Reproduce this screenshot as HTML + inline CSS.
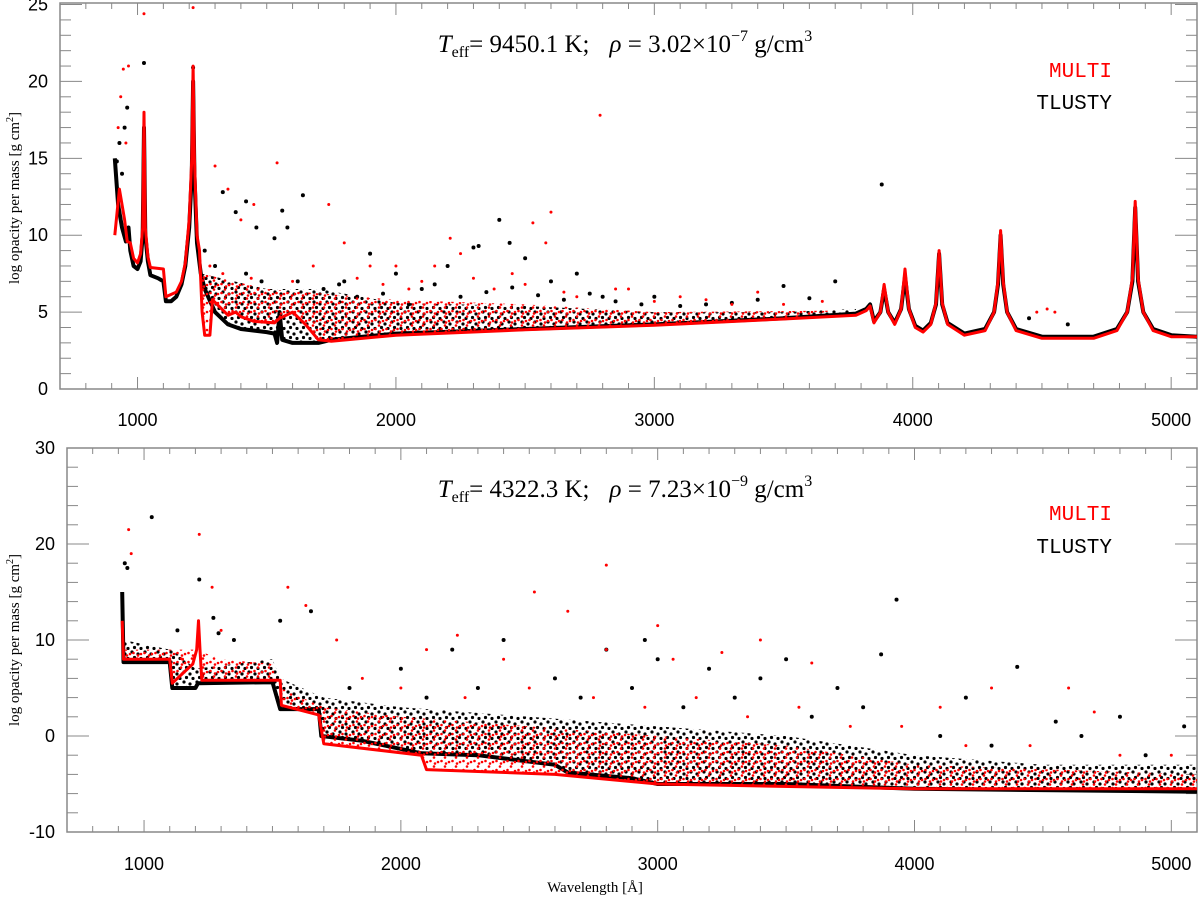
<!DOCTYPE html>
<html><head><meta charset="utf-8"><style>
body{margin:0;background:#fff}
svg text{font-family:"Liberation Sans",sans-serif}
</style></head><body>
<svg id="chart" width="1200" height="903" xmlns="http://www.w3.org/2000/svg">
<defs>
<pattern id="dotsK" width="13" height="10" patternUnits="userSpaceOnUse"><circle cx="2" cy="2" r="1.6" fill="#000"/><circle cx="8" cy="4" r="1.6" fill="#000"/><circle cx="4.5" cy="7.5" r="1.6" fill="#000"/><circle cx="11" cy="8.5" r="1.6" fill="#000"/></pattern>
<pattern id="dotsR" width="11" height="9" patternUnits="userSpaceOnUse"><circle cx="5" cy="1.5" r="1.3" fill="#f00"/><circle cx="1.5" cy="5" r="1.3" fill="#f00"/><circle cx="9" cy="6" r="1.3" fill="#f00"/><circle cx="6" cy="7.5" r="1.3" fill="#f00"/></pattern>
</defs>
<g id="top"></g>
<g id="bot"></g>
<text x="625" y="52" text-anchor="middle" style="font-family:'Liberation Serif',serif;font-size:25px"><tspan font-style="italic">T</tspan><tspan font-size="16" dy="5">eff</tspan><tspan dy="-5">= 9450.1 K;</tspan><tspan dx="20" font-style="italic">ρ</tspan><tspan> = 3.02×10</tspan><tspan font-size="16" dy="-11">−7</tspan><tspan dy="11"> g/cm</tspan><tspan font-size="16" dy="-11">3</tspan></text>
<text x="625" y="497" text-anchor="middle" style="font-family:'Liberation Serif',serif;font-size:25px"><tspan font-style="italic">T</tspan><tspan font-size="16" dy="5">eff</tspan><tspan dy="-5">= 4322.3 K;</tspan><tspan dx="20" font-style="italic">ρ</tspan><tspan> = 7.23×10</tspan><tspan font-size="16" dy="-11">−9</tspan><tspan dy="11"> g/cm</tspan><tspan font-size="16" dy="-11">3</tspan></text>
<text x="1112" y="77" text-anchor="end" fill="#f00" style="font-family:'Liberation Mono',monospace;font-size:21px">MULTI</text>
<text x="1112" y="109" text-anchor="end" fill="#000" style="font-family:'Liberation Mono',monospace;font-size:21px">TLUSTY</text>
<text x="1112" y="520" text-anchor="end" fill="#f00" style="font-family:'Liberation Mono',monospace;font-size:21px">MULTI</text>
<text x="1112" y="553" text-anchor="end" fill="#000" style="font-family:'Liberation Mono',monospace;font-size:21px">TLUSTY</text>
<text x="595" y="892" text-anchor="middle" style="font-family:'Liberation Serif',serif;font-size:15px">Wavelength [Å]</text>
<text transform="translate(19,198) rotate(-90)" text-anchor="middle" style="font-family:'Liberation Serif',serif;font-size:15px">log opacity per mass [g cm<tspan font-size="10" dy="-6">2</tspan><tspan dy="6">]</tspan></text>
<text transform="translate(19,640) rotate(-90)" text-anchor="middle" style="font-family:'Liberation Serif',serif;font-size:15px">log opacity per mass [g cm<tspan font-size="10" dy="-6">2</tspan><tspan dy="6">]</tspan></text>
</svg>
<script>
// ---- data: top panel ----
const topBaseK=[[912,15],[925,12],[940,10.5],[955,9.6],[965,10.5],[972,9],[985,8],[1000,7.8],[1012,8.3],[1020,10],[1025,17],[1030,10],[1040,8.3],[1050,7.4],[1080,7.2],[1100,7],[1110,5.7],[1130,5.7],[1150,6],[1170,6.8],[1185,8],[1200,10.5],[1210,14],[1215,20],[1220,14],[1230,9.5],[1245,7.5],[1260,6.5],[1300,5],[1350,4.2],[1400,3.9],[1500,3.7],[1530,3.6],[1540,3],[1550,5],[1560,3.2],[1600,3],[1700,3],[1750,3.2],[2000,3.6],[2500,3.9],[3000,4.2],[3500,4.6],[3780,4.9],[3820,5.2],[3835,5.5],[3850,4.4],[3875,5],[3889,6.5],[3905,5],[3930,4.3],[3955,5.2],[3970,7.3],[3985,5.2],[4010,4.1],[4040,3.8],[4070,4.3],[4090,5.5],[4102,8.8],[4114,5.5],[4135,4.3],[4200,3.6],[4280,3.9],[4315,5],[4330,6.8],[4340,10],[4350,6.8],[4365,5],[4400,3.9],[4500,3.4],[4700,3.4],[4790,3.9],[4830,5],[4850,7],[4861,11.8],[4872,7],[4892,5],[4930,3.9],[5000,3.5],[5100,3.4]];
const topBaseR=[[912,10],[930,13],[950,11],[960,9.6],[972,9.5],[985,8.5],[1000,8.2],[1012,8.8],[1020,10.5],[1025,18],[1030,10.5],[1040,8.6],[1050,7.9],[1100,7.8],[1110,6],[1150,6.3],[1170,7],[1185,8.2],[1200,11],[1210,15],[1215,21],[1220,15],[1230,10],[1240,9],[1250,5],[1260,3.5],[1280,3.5],[1290,5.8],[1350,4.8],[1380,5],[1400,4.7],[1450,4.4],[1530,4.3],[1550,4.6],[1600,5],[1650,4.2],[1700,3.2],[1750,3.1],[2000,3.5],[2500,3.85],[3000,4.15],[3500,4.55],[3780,4.8],[3820,5.1],[3835,5.4],[3850,4.3],[3875,5],[3889,6.8],[3905,5],[3930,4.2],[3955,5.2],[3970,7.8],[3985,5.2],[4010,4],[4040,3.7],[4070,4.2],[4090,5.6],[4102,9],[4114,5.6],[4135,4.2],[4200,3.5],[4280,3.8],[4315,5],[4330,7],[4340,10.3],[4350,7],[4365,5],[4400,3.8],[4500,3.3],[4700,3.3],[4790,3.8],[4830,5],[4850,7.2],[4861,12.2],[4872,7.2],[4892,5],[4930,3.8],[5000,3.4],[5100,3.4]];
const topEnvK=[[1250,7.5],[1500,6.5],[1700,6.5],[2000,5.6],[2500,5.4],[3000,5],[3500,5],[3780,5.2]];
const topEnvR=[[1250,7.5],[1500,6.5],[2000,5.8],[2500,5.5],[3000,5],[3700,5.1]];
const topOutK=[[1640,12.6],[2400,11],[2440,9.5],[2300,9.2],[2320,9.3],[1800,7],[2000,7.5],[2200,8],[2500,8.5],[2600,7],[2800,6],[3880,13.3],[3000,6],[3200,5.5],[3500,6.7],[3700,7],[1850,6],[2100,6.5],[2700,7.5],[1025,21.2],[1215,20.9],[1330,12.8],[1380,11.5],[1420,12.2],[1460,10.5],[1560,11.6],[1580,10.5],[1530,9.8],[960,18.3],[1900,8.8],[930,16],[940,14],[950,17],[920,14.8],[1260,9],[1300,8],[1420,7.5],[1480,7],[1620,7],[1720,6.5],[1780,6.8],[1950,6.2],[2050,5.5],[2150,6.8],[2250,6],[2350,6.3],[2450,6.6],[2550,6.1],[2650,5.8],[2750,6.2],[2850,5.7],[2950,5.5],[3100,5.4],[3300,5.6],[3400,5.8],[3600,5.9],[4450,4.6],[4600,4.2]];
const topOutR=[[1540,14.7],[2790,17.8],[1740,12],[2210,9.8],[2530,10.8],[2580,9.5],[2600,11.5],[2000,8],[1900,8],[2150,8],[2450,7.5],[1300,14.5],[1350,13],[1400,11],[1450,12],[2900,6.5],[3100,6],[3300,5.5],[4520,5.2],[1025,24.4],[1215,24.8],[945,20.8],[965,21],[1800,9.5],[2250,8.8],[3400,6.3],[925,17],[935,19],[955,16],[1280,8],[1330,7.5],[1440,7.2],[1600,7],[1680,8],[1850,7.2],[1950,6.8],[2050,6.5],[2100,7],[2300,7.2],[2380,6.5],[2500,6.8],[2650,6.3],[2700,6],[2850,6.5],[3000,5.7],[3200,5.8],[3500,5.5],[3650,5.7],[4480,5],[4550,5]];
// ---- data: bottom panel ----
const botBaseK=[[915,15],[920,7.7],[1100,7.7],[1110,5],[1200,5],[1210,5.5],[1500,5.6],[1530,2.8],[1680,2.8],[1690,0],[1850,-0.5],[2080,-1.8],[2300,-2],[2600,-3],[2650,-3.8],[2900,-4.4],[3000,-5],[3500,-5],[4000,-5.5],[5100,-5.8]];
const botBaseR=[[915,12],[920,8],[1100,8],[1110,5.5],[1190,7.5],[1205,9],[1212,12],[1218,9],[1225,5.8],[1530,5.8],[1535,3.2],[1680,2.2],[1700,-0.8],[2080,-2],[2100,-3.5],[2600,-4],[3000,-5],[4000,-5.5],[5100,-5.5]];
const botEnvK=[[920,10],[1100,9],[1110,9],[1200,7],[1500,8],[1530,6],[1700,4],[2000,3],[2500,2],[3000,1],[3500,0],[4000,-2],[4500,-3],[5100,-3]];
const botEnvR=[[920,9],[1200,9],[1300,8],[1500,7.5],[1530,5],[1700,3],[2000,2],[2500,1],[3000,0],[3500,-1],[4000,-3],[5100,-4]];
const botOutK=[[1030,22.8],[1215,16.3],[1270,12.3],[1530,12],[1650,13],[3930,14.2],[4400,7.2],[3000,8],[3500,8],[2800,9],[2200,9],[2400,10],[3870,8.5],[4800,2],[5050,1],[2600,6],[3200,7],[3700,5],[4200,4],[2000,7],[925,18],[935,17.5],[1290,10.7],[1350,10],[1130,11],[2950,10],[3400,6],[4550,1.5],[1800,5],[2100,4],[2300,5],[2700,4],[2900,5],[3100,3],[3300,4],[3600,2],[3800,3],[4100,0],[4300,-1],[4650,0],[4900,-2],[5150,-1]];
const botOutR=[[940,21.5],[950,19],[1215,21],[1265,15.5],[1560,15.5],[1630,13.6],[2520,15],[2800,17.8],[2650,13],[2220,10.5],[3000,11.5],[3400,10],[3060,8],[3600,7.6],[4300,5],[4600,5],[3250,8.7],[2400,8],[2800,9],[4100,3],[1300,11],[1150,8],[1750,10],[2100,9],[4700,2.5],[5150,-1],[1850,6],[2000,5],[2250,4],[2500,5],[2750,4],[2950,3],[3150,4],[3350,2],[3550,3],[3750,1],[3950,1],[4200,-1],[4450,-1],[4800,-2],[5000,-2]];
const xTicks=[1000,2000,3000,4000,5000];
const topYTicks=[0,5,10,15,20,25];
const botYTicks=[-10,0,10,20,30];

const NS='http://www.w3.org/2000/svg';
function mk(parent,tag,attrs){const e=document.createElementNS(NS,tag);for(const k in attrs)e.setAttribute(k,attrs[k]);parent.appendChild(e);return e;}
function panel(g,x0,x1,y0,y1,ymin,ymax,yTicks,yMinor,yLabelX,xLabelY,series){
  const xs=v=>x0+(v-700)/4400*(x1-x0);
  const ys=v=>y1-(v-ymin)/(ymax-ymin)*(y1-y0);
  const fr=mk(g,'rect',{x:x0,y:y0,width:x1-x0,height:y1-y0,fill:'none',stroke:'#888','stroke-width':1.5});
  
  
  for(let v=700;v<=5100;v+=100){const maj=v%1000===0;const L=maj?12:6;
    mk(g,'line',{x1:xs(v),x2:xs(v),y1:y1,y2:y1-L,stroke:'#888'});
    mk(g,'line',{x1:xs(v),x2:xs(v),y1:y0,y2:y0+L,stroke:'#888'});}
  xTicks.forEach(v=>{const t=mk(g,'text',{x:xs(v),y:xLabelY,'text-anchor':'middle','font-size':18});t.textContent=v;
    
    });
  for(let v=Math.ceil(ymin/yMinor)*yMinor;v<=ymax;v+=yMinor){const maj=yTicks.includes(v);const L=maj?22:11;
    mk(g,'line',{x1:x0,x2:x0+L,y1:ys(v),y2:ys(v),stroke:'#888'});
    mk(g,'line',{x1:x1,x2:x1-L,y1:ys(v),y2:ys(v),stroke:'#888'});}
  yTicks.forEach(v=>{const t=mk(g,'text',{x:yLabelX,y:ys(v)+6,'text-anchor':'end','font-size':18});t.textContent=v;
    
    });
  const clip='clip'+y0;
  mk(mk(g,'clipPath',{id:clip}),'rect',{x:x0,y:y0,width:x1-x0,height:y1-y0});
  const pg=mk(g,'g',{'clip-path':'url(#'+clip+')'});
  const path=a=>a.map((p,i)=>(i?'L':'M')+xs(p[0]).toFixed(1)+','+ys(p[1]).toFixed(1)).join('');
  series.forEach(s=>{
    const sg=mk(pg,'g',{});
    
    
    const env=s.env, base=s.base.filter(p=>p[0]>=env[0][0]&&p[0]<=env[env.length-1][0]);
    const d=path(env)+base.slice().reverse().map(p=>'L'+xs(p[0]).toFixed(1)+','+ys(p[1]).toFixed(1)).join('')+'Z';
    mk(sg,'path',{d:d,fill:s.pat});
    mk(sg,'path',{d:path(s.base),fill:'none',stroke:s.col,'stroke-width':s.w,'stroke-linejoin':'round'});
    s.out.forEach(p=>{const c=mk(sg,'circle',{cx:xs(p[0]),cy:ys(p[1]),r:s.r,fill:s.col});
      
      });
  });
}
panel(document.getElementById('top'),60,1197,3,389,0,25.1,topYTicks,1,48,426,[
  {name:'tlusty-series-top',base:topBaseK,env:topEnvK,out:topOutK,col:'#000',pat:'url(#dotsK)',w:4,r:2},
  {name:'multi-series-top',base:topBaseR,env:topEnvR,out:topOutR,col:'#f00',pat:'url(#dotsR)',w:3,r:1.5}]);
panel(document.getElementById('bot'),67,1197,448,832,-10,30,botYTicks,2,55,870,[
  {name:'tlusty-series-bottom',base:botBaseK,env:botEnvK,out:botOutK,col:'#000',pat:'url(#dotsK)',w:4,r:2},
  {name:'multi-series-bottom',base:botBaseR,env:botEnvR,out:botOutR,col:'#f00',pat:'url(#dotsR)',w:3,r:1.5}]);
</script>
</body></html>
